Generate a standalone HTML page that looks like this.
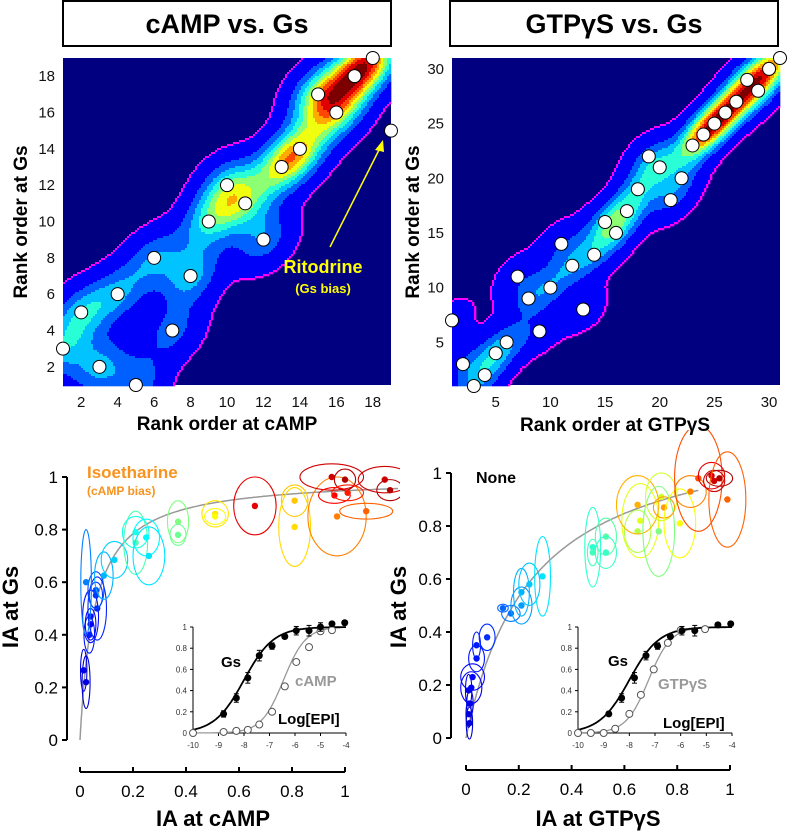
<!DOCTYPE html>
<html><head><meta charset="utf-8">
<style>
html,body{margin:0;padding:0;background:#fff;}
svg{display:block;font-family:"Liberation Sans",Arial,sans-serif;}
</style></head>
<body>
<svg id="fig" width="787" height="832" viewBox="0 0 787 832" xmlns="http://www.w3.org/2000/svg">
  <g>
    <rect x="63" y="1" width="328" height="45" fill="#fff" stroke="#000" stroke-width="2"/>
    <text x="227" y="33" font-size="27" font-weight="bold" text-anchor="middle">cAMP vs. Gs</text>
  </g>
  <g>
    <rect x="450" y="1" width="328" height="45" fill="#fff" stroke="#000" stroke-width="2"/>
    <text x="614" y="33" font-size="27" font-weight="bold" text-anchor="middle">GTPγS vs. Gs</text>
  </g>
  <g id="hmL"></g>
  <g id="hmR"></g>
  <text x="22" y="222" transform="rotate(-90 22 222)" font-size="19" font-weight="bold" text-anchor="middle" dominant-baseline="middle">Rank order at Gs</text>
  <text x="227" y="430" font-size="19" font-weight="bold" text-anchor="middle">Rank order at cAMP</text>
  <text x="414" y="222" transform="rotate(-90 414 222)" font-size="19" font-weight="bold" text-anchor="middle" dominant-baseline="middle">Rank order at Gs</text>
  <text x="615" y="431" font-size="19" font-weight="bold" text-anchor="middle">Rank order at GTPγS</text>
  <g>
    <line x1="330" y1="247" x2="381" y2="146" stroke="#ffff00" stroke-width="1.5"/>
    <polygon points="383,140 375,150 384,152" fill="#ffff00"/>
    <text x="323" y="273" font-size="18" font-weight="bold" fill="#ffff00" text-anchor="middle">Ritodrine</text>
    <text x="323" y="293" font-size="13" font-weight="bold" fill="#ffff00" text-anchor="middle">(Gs bias)</text>
  </g>
  <text x="12" y="607" transform="rotate(-90 12 607)" font-size="22" font-weight="bold" text-anchor="middle" dominant-baseline="middle">IA at Gs</text>
  <text x="213" y="826" font-size="22" font-weight="bold" text-anchor="middle">IA at cAMP</text>
  <text x="400" y="607" transform="rotate(-90 400 607)" font-size="22" font-weight="bold" text-anchor="middle" dominant-baseline="middle">IA at Gs</text>
  <text x="598" y="826" font-size="22" font-weight="bold" text-anchor="middle">IA at GTPγS</text>
  <text x="87" y="478" font-size="17" font-weight="bold" fill="#f7931e">Isoetharine</text>
  <text x="87" y="495" font-size="12" font-weight="bold" fill="#f7931e">(cAMP bias)</text>
  <text x="476" y="483" font-size="16" font-weight="bold">None</text>
</svg>
<script>
const rankCampX = [1,2,3,4,5,6,7,8,9,10,11,12,13,14,15,16,17,18,19];
const rankCampY = [3,5,2,6,1,8,4,7,10,12,11,9,13,14,17,16,18,19,15];
const densWeightL = [0.9,0.9,0.9,0.8,0.8,0.8,0.7,1,1,1,1,0.8,1.2,1.2,1.3,1.3,1.4,1.4,0];
const rankGtpX = [1,2,3,4,5,6,7,8,9,10,11,12,13,14,15,16,17,18,19,20,21,22,23,24,25,26,27,28,29,30,31];
const rankGtpY = [7,3,1,2,4,5,11,9,6,10,14,12,8,13,16,15,17,19,22,21,18,20,23,24,25,26,27,29,28,30,31];
const densWeightR = [0.5,0.7,0.7,0.7,0.8,0.8,0.6,0.8,0.6,0.8,0.7,0.8,0.6,0.9,1,1,1,1,0.8,1,0.8,0.8,1.2,1.3,1.3,1.3,1.3,1.3,1.3,1.3,1.3];
const rankTicksL = [2,4,6,8,10,12,14,16,18];
const rankTicksR = [5,10,15,20,25,30];

const iaCampX = [.023,.014,.035,.04,.04,.065,.06,.06,.023,.09,.13,.21,.21,.25,.26,.37,.37,.51,.51,.66,.81,.81,.97,.95,1.0,.96,1.01,1.08,1.15,1.17];
const iaCampGs = [.22,.265,.40,.44,.47,.50,.55,.57,.60,.625,.685,.75,.79,.77,.70,.83,.78,.86,.85,.89,.91,.81,.85,1.0,.99,.93,.94,.87,.99,.95];
const errCampX = [.015,.012,.02,.02,.03,.035,.025,.03,.02,.035,.05,.045,.05,.05,.06,.04,.03,.05,.04,.08,.05,.06,.11,.12,.04,.06,.06,.1,.1,.05];
const errCampY = [.10,.08,.07,.06,.10,.12,.05,.07,.20,.09,.07,.12,.06,.07,.11,.08,.04,.05,.03,.11,.06,.15,.15,.05,.04,.03,.03,.03,.05,.04];
const hueCamp = [.08,.1,.15,.12,.14,.16,.18,.2,.25,.3,.33,.45,.4,.37,.35,.5,.48,.65,.62,.9,.68,.66,.75,.92,.95,.88,.85,.78,.92,.95];
const iaGtpX = [.013,.01,.015,.01,.02,.025,.04,.04,.08,.14,.17,.21,.21,.24,.29,.48,.48,.53,.53,.65,.66,.65,.73,.74,.75,.81,.85,.88,.93,.94,.96,.99];
const iaGtpGs = [.056,.09,.13,.18,.19,.23,.30,.35,.38,.49,.47,.50,.55,.58,.61,.72,.70,.76,.70,.78,.82,.88,.78,.91,.87,.81,.93,.98,.99,.97,.98,.90];
const errGtpX = [.012,.01,.012,.012,.04,.045,.03,.015,.03,.02,.035,.04,.03,.04,.03,.03,.02,.04,.04,.05,.07,.08,.06,.06,.04,.06,.06,.09,.05,.04,.05,.07];
const errGtpY = [.06,.05,.05,.06,.06,.05,.05,.05,.05,.015,.03,.07,.09,.08,.15,.15,.05,.07,.06,.08,.14,.11,.17,.09,.04,.13,.06,.2,.05,.04,.03,.18];
const hueGtp = [.08,.09,.1,.1,.12,.13,.14,.15,.17,.22,.24,.28,.3,.32,.35,.42,.44,.46,.43,.55,.6,.7,.5,.58,.72,.62,.75,.8,.9,.92,.95,.78];
const fitCamp = [1.0, 0.055];
const fitGtp = [1.2, 0.25];
const iaTicks = [0,0.2,0.4,0.6,0.8,1];
const iaTickLabels = ['0','0.2','0.4','0.6','0.8','1'];

const logDoseGs = [-10,-8.8,-8.3,-7.85,-7.4,-6.9,-6.4,-5.95,-5.45,-5.0,-4.55,-4.05];
const respGsL = [0,.18,.33,.52,.73,.82,.91,.965,.965,1.0,1.03,1.04];
const errGsL = [0,.03,.04,.05,.05,.03,.02,.04,.05,.04,.02,.02];
const logDoseCamp = [-10,-8.8,-8.3,-7.85,-7.4,-6.9,-6.4,-5.95,-5.45,-5.0,-4.55];
const respCamp = [0,.01,.02,.03,.08,.2,.44,.67,.81,.96,.97];
const logDoseGsR = [-10,-8.8,-8.3,-7.8,-7.35,-6.9,-6.4,-5.95,-5.45,-4.55,-4.05];
const respGsR = [0,.18,.33,.52,.73,.82,.91,.965,.965,1.02,1.03];
const errGsR = [0,.02,.04,.05,.04,.03,.02,.04,.05,.02,.02];
const logDoseGtp = [-10,-9.5,-9.0,-8.55,-8.0,-7.55,-7.05,-6.5,-6.0,-5.05];
const respGtp = [0,0,0,.04,.18,.36,.6,.85,.97,.98];
const sigGsL = [-8.0, 0.75]; const sigCamp = [-6.45, 1.0];
const sigGsR = [-8.0, 0.75]; const sigGtp = [-7.25, 1.0];
const insetXTicks = [-10,-9,-8,-7,-6,-5,-4];
const insetYTicks = [0,0.2,0.4,0.6,0.8,1];

const NS = 'http://www.w3.org/2000/svg';
const svg = document.getElementById('fig');
function mk(tag, attrs, parent){
  const e = document.createElementNS(NS, tag);
  for (const k in attrs) e.setAttribute(k, attrs[k]);
  (parent||svg).appendChild(e);
  return e;
}
function clamp(v){return Math.max(0, Math.min(1, v));}
function jet(v){
  const r = clamp(1.5 - Math.abs(4*v-3)), g = clamp(1.5 - Math.abs(4*v-2)), b = clamp(1.5 - Math.abs(4*v-1));
  return 'rgb(' + Math.round(r*255) + ',' + Math.round(g*255) + ',' + Math.round(b*255) + ')';
}
function lin(d0,d1,p0,p1){ const f = v => p0 + (v-d0)/(d1-d0)*(p1-p0); f.inv = p => d0 + (p-p0)/(p1-p0)*(d1-d0); return f; }

function heatmap(group, xs, ys, ws, sx, sy, px0, px1, py0, py1, sa, sc, thr, gam, name){
  const cell = 2;
  const nx = Math.ceil((px1-px0)/cell), ny = Math.ceil((py1-py0)/cell);
  const D = [];
  let mx = 0;
  for (let j=0;j<ny;j++){ const row=[]; for (let i=0;i<nx;i++){
    const dx = sx.inv(px0 + (i+0.5)*cell), dy = sy.inv(py0 + (j+0.5)*cell);
    let s = 0;
    for (let k=0;k<xs.length;k++){
      const a = dx - xs[k], b = dy - ys[k];
      const u = (a+b)/Math.SQRT2, w = (b-a)/Math.SQRT2;
      s += ws[k]*Math.exp(-u*u/(2*sa*sa) - w*w/(2*sc*sc));
    }
    row.push(s); if (s>mx) mx=s; } D.push(row); }
  const bg = jet(0);
  const colorOf = (j,i) => {
    const d = D[j][i]/mx;
    if (d < thr) return bg;
    const nb = [[j-1,i],[j+1,i],[j,i-1],[j,i+1]];
    for (const [a,b] of nb){ if (a>=0&&a<ny&&b>=0&&b<nx && D[a][b]/mx < thr) return '#ff00ff'; }
    const v = Math.pow((d-thr)/(1-thr), gam);
    const q = Math.min(9, Math.floor(v*10));
    return jet(0.12 + q*0.098);
  };
  mk('rect',{x:px0,y:py0,width:px1-px0,height:py1-py0,fill:bg},group);
  for (let j=0;j<ny;j++){
    let i=0;
    while (i<nx){
      const c = colorOf(j,i); let k=i+1;
      while (k<nx && colorOf(j,k)===c) k++;
      if (c !== bg){
        const r = mk('rect',{x:px0+i*cell,y:py0+j*cell,width:Math.min((k-i)*cell, px1-px0-i*cell)+0.3,height:cell+0.3,fill:c},group);
        
        
      }
      i=k;
    }
  }
}
const sxL = lin(1,19,63,391), syL = lin(1,19,385,58);
const sxR = lin(1,31,452,780), syR = lin(1,31,386,58);
heatmap(document.getElementById('hmL'), rankCampX, rankCampY, densWeightL, sxL, syL, 63,391,58,385, 1.3,0.95,0.05,1.35,'heat-camp');
heatmap(document.getElementById('hmR'), rankGtpX, rankGtpY, densWeightR, sxR, syR, 452,780,58,385, 1.8,1.2,0.05,1.45,'heat-gtp');

function rankPoints(xs, ys, sx, sy, name){
  const g = mk('g',{});
  
  
  for (let k=0;k<xs.length;k++){
    const c = mk('circle',{cx:sx(xs[k]),cy:sy(ys[k]),r:6.5,fill:'#fff',stroke:'#000','stroke-width':1},g);
    
    
  }
}
rankPoints(rankCampX, rankCampY, sxL, syL, 'rank-points-camp');
rankPoints(rankGtpX, rankGtpY, sxR, syR, 'rank-points-gtp');

function rankTicks(ticks, sx, sy, yLabX, xLabY, name){
  for (const t of ticks){
    const a = mk('text',{x:yLabX,y:sy(t)+5,'font-size':15,'text-anchor':'end',fill:'#111'});
    a.textContent = t;
    
    
    const b = mk('text',{x:sx(t),y:xLabY,'font-size':15,'text-anchor':'middle',fill:'#111'});
    b.textContent = t;
    
    
  }
}
rankTicks(rankTicksL, sxL, syL, 55, 407, 'rank-camp');
rankTicks(rankTicksR, sxR, syR, 444, 407, 'rank-gtp');

function iaPanel(o){
  const sx = lin(0,1,o.x0,o.x1), sy = lin(0,1,o.y0,o.y1);
  const g = mk('g',{});
  
  
  mk('line',{x1:o.ax,y1:sy(1),x2:o.ax,y2:sy(0),stroke:'#000','stroke-width':2},g);
  mk('line',{x1:sx(0),y1:o.bx,x2:sx(1),y2:o.bx,stroke:'#000','stroke-width':2},g);
  for (let k=0;k<iaTicks.length;k++){
    const t = iaTicks[k];
    mk('line',{x1:o.ax-5,y1:sy(t),x2:o.ax,y2:sy(t),stroke:'#000','stroke-width':2},g);
    const a = mk('text',{x:o.ax-9,y:sy(t)+6,'font-size':17,'text-anchor':'end'},g);
    a.textContent = iaTickLabels[k];
    
    
    mk('line',{x1:sx(t),y1:o.bx-5,x2:sx(t),y2:o.bx,stroke:'#000','stroke-width':2},g);
    const b = mk('text',{x:sx(t),y:o.bx+25,'font-size':17,'text-anchor':'middle'},g);
    b.textContent = iaTickLabels[k];
    
    
  }
  const clipId = o.name + '-clip';
  const cp = mk('clipPath',{id:clipId},g);
  mk('rect',{x:o.ax,y:430,width:o.clipW,height:330},cp);
  const dg = mk('g',{'clip-path':'url(#'+clipId+')'},g);
  let d = '';
  for (let i=0;i<=200;i++){
    const x = Math.pow(i/200,2)*o.fitMax;
    const y = o.fit[0]*x/(x+o.fit[1]);
    d += (i?'L':'M') + sx(x).toFixed(1) + ',' + sy(y).toFixed(1);
  }
  const fl = mk('path',{d:d,fill:'none',stroke:'#999','stroke-width':1.5},dg);
  
  
  for (let k=0;k<o.xs.length;k++){
    const col = jet(o.hue[k]);
    const e = mk('ellipse',{cx:sx(o.xs[k]),cy:sy(o.ys[k]),rx:o.ex[k]*(o.x1-o.x0),ry:o.ey[k]*(o.y0-o.y1),fill:'none',stroke:col,'stroke-width':1.1},dg);
    
    
    const c = mk('circle',{cx:sx(o.xs[k]),cy:sy(o.ys[k]),r:3.2,fill:col},dg);
    
    
  }
}
iaPanel({name:'ia-panel-camp',x0:80,x1:345,y0:740,y1:477,ax:67,bx:772,clipW:333,xs:iaCampX,ys:iaCampGs,ex:errCampX,ey:errCampY,hue:hueCamp,fit:fitCamp,fitMax:1.2});
iaPanel({name:'ia-panel-gtp',x0:466,x1:730,y0:738,y1:473,ax:451,bx:770,clipW:336,xs:iaGtpX,ys:iaGtpGs,ex:errGtpX,ey:errGtpY,hue:hueGtp,fit:fitGtp,fitMax:0.88});

function inset(o){
  const sx = lin(-10,-4,o.x0,o.x1), sy = lin(0,1,o.y0,o.y1);
  const g = mk('g',{});
  
  
  mk('line',{x1:o.x0,y1:sy(1),x2:o.x0,y2:sy(0),stroke:'#000','stroke-width':1},g);
  mk('line',{x1:o.x0,y1:sy(0),x2:o.x1,y2:sy(0),stroke:'#000','stroke-width':1},g);
  for (const t of insetYTicks){
    mk('line',{x1:o.x0-3,y1:sy(t),x2:o.x0,y2:sy(t),stroke:'#000'},g);
    const a = mk('text',{x:o.x0-6,y:sy(t)+3,'font-size':8,'text-anchor':'end',fill:'#333'},g);
    a.textContent = t;
    
    
  }
  for (const t of insetXTicks){
    mk('line',{x1:sx(t),y1:sy(0),x2:sx(t),y2:sy(0)+3,stroke:'#000'},g);
    const a = mk('text',{x:sx(t),y:sy(0)+15,'font-size':8,'text-anchor':'middle',fill:'#333'},g);
    a.textContent = t;
    
    
  }
  const curve = (p, col) => {
    let d='';
    for (let i=0;i<=120;i++){ const x = -10 + 6*i/120; const y = 1/(1+Math.pow(10,(p[0]-x)*p[1]));
      d += (i?'L':'M') + sx(x).toFixed(1)+','+sy(y).toFixed(1); }
    const c = mk('path',{d:d,fill:'none',stroke:col,'stroke-width':col==='#000'?1.8:1.3},g);
    
    
  };
  curve(o.sig2, '#999');
  curve(o.sig1, '#000');
  for (let k=0;k<o.d2.length;k++){
    const c = mk('circle',{cx:sx(o.d2[k]),cy:sy(o.r2[k]),r:3.5,fill:'#fff',stroke:'#555','stroke-width':1},g);
    
    
  }
  for (let k=1;k<o.d1.length;k++){
    const x = sx(o.d1[k]), y = sy(o.r1[k]), e = o.e1[k]*(o.y0-o.y1);
    mk('line',{x1:x,y1:y-e,x2:x,y2:y+e,stroke:'#000'},g);
    mk('line',{x1:x-2.5,y1:y-e,x2:x+2.5,y2:y-e,stroke:'#000'},g);
    mk('line',{x1:x-2.5,y1:y+e,x2:x+2.5,y2:y+e,stroke:'#000'},g);
    const c = mk('circle',{cx:x,cy:y,r:3.5,fill:'#000'},g);
    
    
  }
  const t1 = mk('text',{x:o.gsX,y:o.gsY,'font-size':15,'font-weight':'bold'},g);
  t1.textContent = 'Gs';
  
  
  const t2 = mk('text',{x:o.l2X,y:o.l2Y,'font-size':15,'font-weight':'bold',fill:'#999'},g);
  t2.textContent = o.l2;
  
  
  const t3 = mk('text',{x:o.lgX,y:o.lgY,'font-size':15,'font-weight':'bold'},g);
  t3.textContent = 'Log[EPI]';
  
  
}
inset({name:'inset-camp',x0:193,x1:346,y0:733,y1:627,d1:logDoseGs,r1:respGsL,e1:errGsL,d2:logDoseCamp,r2:respCamp,sig1:sigGsL,sig2:sigCamp,gsX:221,gsY:667,l2:'cAMP',l2X:295,l2Y:686,lgX:278,lgY:724});
inset({name:'inset-gtp',x0:578,x1:732,y0:733,y1:627,d1:logDoseGsR,r1:respGsR,e1:errGsR,d2:logDoseGtp,r2:respGtp,sig1:sigGsR,sig2:sigGtp,gsX:608,gsY:666,l2:'GTPγS',l2X:658,l2Y:689,lgX:663,lgY:728});
</script>
</body></html>
